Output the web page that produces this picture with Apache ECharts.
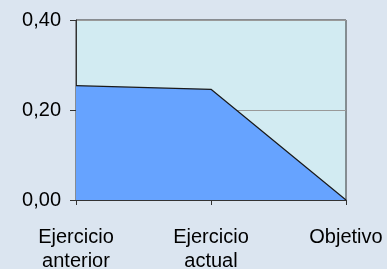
<!DOCTYPE html>
<html>
<head>
<meta charset="utf-8">
<script src="https://cdn.jsdelivr.net/npm/echarts@6/dist/echarts.min.js"></script>
<style>
  html, body { margin: 0; padding: 0; background: #DBE5F0; }
  #chart { width: 387px; height: 269px; }
</style>
</head>
<body>
<div id="chart"></div>
<script>
var categories = ['Ejercicio\nanterior', 'Ejercicio\nactual', 'Objetivo'];
var values = [0.254, 0.246, 0];
var yTicks = { min: 0, max: 0.4, interval: 0.2 };

var myChart = echarts.init(document.getElementById('chart'));

var option = {
    backgroundColor: '#DBE5F0',
    animation: false,
    grid: {
        left: 76,
        right: 41,
        top: 20,
        bottom: 69,
        outerBoundsMode: 'none',
        containLabel: false,
        show: true,
        backgroundColor: '#D2EBF2',
        borderColor: '#333',
        borderWidth: 1
    },
    xAxis: {
        type: 'category',
        data: categories,
        boundaryGap: false,
        axisLine: { lineStyle: { color: '#333', width: 1 } },
        axisTick: { show: true, length: 5, lineStyle: { color: '#333' } },
        axisLabel: {
            color: '#000',
            fontFamily: 'Liberation Sans',
            fontSize: 20,
            lineHeight: 24,
            margin: 25,
            interval: 0
        },
        splitLine: { show: false }
    },
    yAxis: {
        type: 'value',
        min: yTicks.min,
        max: yTicks.max,
        interval: yTicks.interval,
        axisLine: { show: true, lineStyle: { color: '#333', width: 1 } },
        axisTick: { show: true, length: 6, lineStyle: { color: '#333' } },
        axisLabel: {
            color: '#000',
            fontFamily: 'Liberation Sans',
            fontSize: 20,
            margin: 15,
            formatter: function (v) {
                return v.toFixed(2).replace('.', ',');
            }
        },
        splitLine: { show: true, lineStyle: { color: '#999', width: 1 } }
    },
    series: [
        {
            type: 'line',
            data: values,
            symbol: 'none',
            lineStyle: { color: '#1a1a1a', width: 1.2 },
            areaStyle: { color: '#66A3FF', opacity: 1 }
        }
    ]
};
myChart.setOption(option);
</script>
</body>
</html>
